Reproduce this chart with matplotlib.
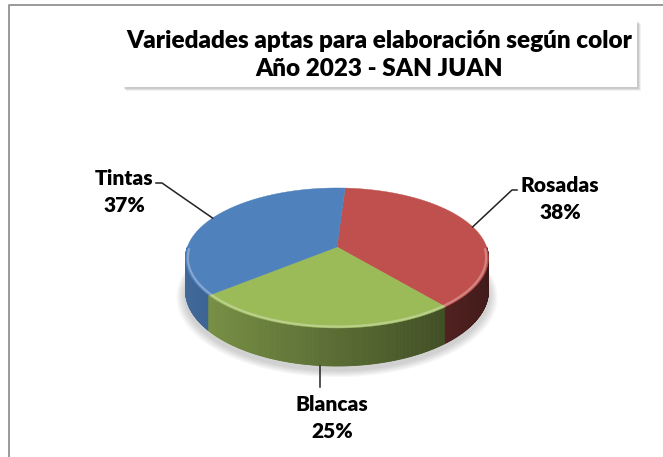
import matplotlib.pyplot as plt
from matplotlib.patches import Polygon, Rectangle
from matplotlib.collections import PolyCollection
import matplotlib.colors as mcolors
import numpy as np

# Datos del gráfico (sentido horario desde arriba)
variedades = ['Rosadas', 'Blancas', 'Tintas']
porcentajes = [38, 25, 37]
colores = ['#C0504D', '#9BBB59', '#4F81BD']
titulo = 'Variedades aptas para elaboración según color\nAño 2023 - SAN JUAN'

W, H = 663, 457
fig = plt.figure(figsize=(W / 100, H / 100), dpi=100)
ax = fig.add_axes([0, 0, 1, 1])
ax.set_xlim(0, W)
ax.set_ylim(H, 0)
ax.axis('off')

fuente = 'Lato'
peso = 'heavy'

# marco del área del gráfico
ax.plot([9, 9, W], [H, 5, 5], color='#9a9a9a', lw=1.4, solid_capstyle='butt')

# caja del título con sombra
bx0, by0, bx1, by1 = 122, 20, 637, 87
for i, a in enumerate([0.05, 0.07, 0.10]):
    off = 4 - i
    ax.add_patch(Rectangle((bx0 + off, by0 + off), bx1 - bx0, by1 - by0,
                           facecolor='#000000', alpha=a, lw=0))
ax.add_patch(Rectangle((bx0, by0), bx1 - bx0, by1 - by0, facecolor='white', lw=0))
ax.text((bx0 + bx1) / 2, 55, titulo, ha='center', va='center', fontsize=17.5,
        fontweight=peso, family=fuente, linespacing=1.35)

# geometría de la torta 3D (perspectiva simple)
cx, cy = 337, 247
A, B, k = 149.6, 68.3, 0.157
prof = 32
inicio = 86.4

def proyectar(theta, r=1.0):
    t = np.radians(theta)
    u, v = r * np.cos(t), r * np.sin(t)
    d = 1 + k * v
    return cx + A * u / d, cy - B * v / d

def caida(theta):
    return prof / (1 + k * np.sin(np.radians(theta)))

total = sum(porcentajes)
bordes = inicio - 360 * np.concatenate([[0], np.cumsum(porcentajes)]) / total

def indice_porcion(theta):
    desde = (inicio - theta) % 360
    acum = 360 * np.cumsum(porcentajes) / total
    return int(np.searchsorted(acum, desde))

# sombra suave bajo la torta
tt = np.linspace(0, 360, 200)
xs, ys = proyectar(tt)
ys = ys + caida(tt)
for i in range(6):
    esc = 1.0 + 0.01 * (i + 1)
    ax.add_patch(Polygon(np.column_stack([cx + (xs - cx) * esc, cy + 4 + (ys - cy) * esc]),
                         closed=True, facecolor='#000000', alpha=0.03, lw=0))

# pared lateral con sombreado
polis, cols = [], []
th = np.linspace(-180, 0, 361)
for t1, t2 in zip(th[:-1], th[1:]):
    x1, y1 = proyectar(t1)
    x2, y2 = proyectar(t2)
    polis.append([(x1, y1), (x2, y2), (x2, y2 + caida(t2)), (x1, y1 + caida(t1))])
    tm = (t1 + t2) / 2
    base = np.array(mcolors.to_rgb(colores[indice_porcion(tm)]))
    f = 0.58 - 0.25 * np.cos(np.radians(tm))
    cols.append(np.clip(base * f, 0, 1))
ax.add_collection(PolyCollection(polis, facecolors=cols, edgecolors=cols, lw=0.6))

# cara superior
for i in range(len(porcentajes)):
    arco = np.linspace(bordes[i], bordes[i + 1], 120)
    px, py = proyectar(arco)
    pts = np.column_stack([np.r_[cx, px], np.r_[cy, py]])
    ax.add_patch(Polygon(pts, closed=True, facecolor=colores[i], edgecolor=colores[i], lw=0.3))

# brillo del borde superior
tb = np.linspace(-178, -2, 200)
hx, hy = proyectar(tb, 0.985)
ax.plot(hx, hy, color='white', alpha=0.3, lw=1.6)

# etiquetas con líneas guía
medios = (bordes[:-1] + bordes[1:]) / 2
etiquetas = {
    'Rosadas': dict(pos=(560, 199), codo=[(512, 190), (517, 190)]),
    'Blancas': dict(pos=(332, 418), codo=[(None, 387)]),
    'Tintas': dict(pos=(124, 192), codo=[(162, 183), (156, 183)]),
}
for i, nombre in enumerate(variedades):
    mx, my = proyectar(medios[i])
    if np.sin(np.radians(medios[i])) < -0.9:
        my = my + caida(medios[i])
    cfg = etiquetas[nombre]
    lx, ly = [mx], [my]
    for px, py in cfg['codo']:
        lx.append(mx if px is None else px)
        ly.append(py)
    ax.plot(lx, ly, color='#222222', lw=1.1)
    pct = 100 * porcentajes[i] / total
    ax.text(cfg['pos'][0], cfg['pos'][1], f'{nombre}\n{pct:.0f}%', ha='center', va='center',
            fontsize=15, fontweight=peso, family=fuente, linespacing=1.5)

fig.savefig('out.png', dpi=100)
